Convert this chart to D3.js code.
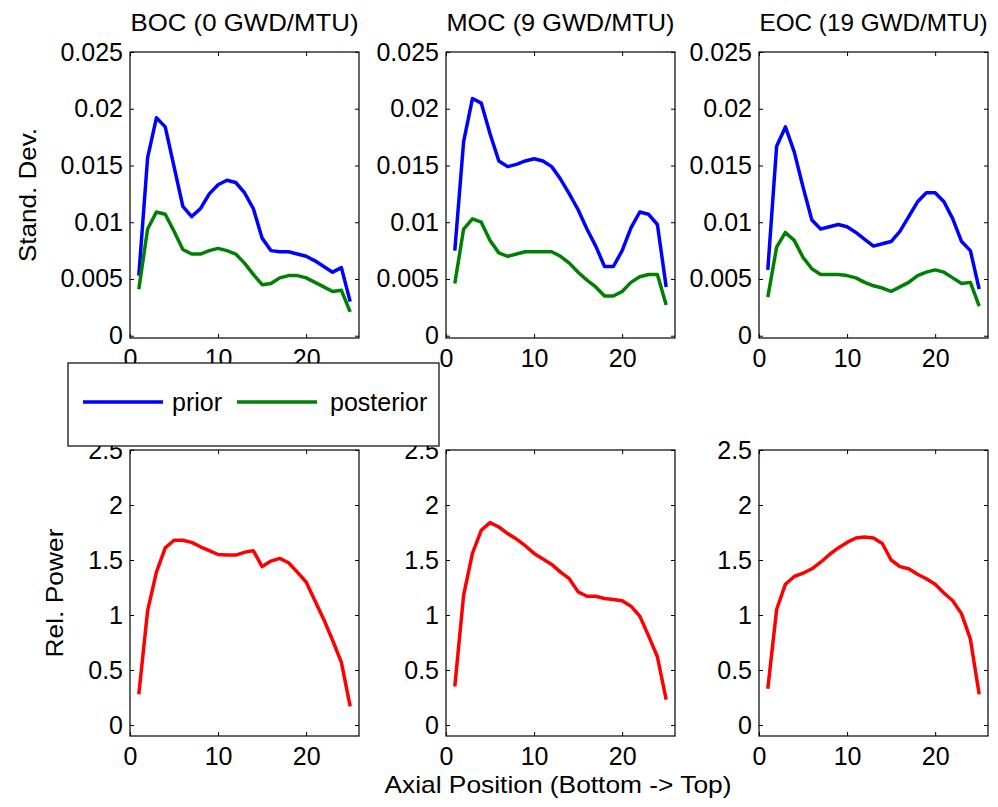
<!DOCTYPE html>
<html lang="en">
<head>
    <meta charset="UTF-8">
    <title>Axial profiles</title>
    <script src="https://d3js.org/d3.v7.min.js"></script>
    <style>
        body { margin: 0; background: #fff; }
        text { font-family: "Liberation Sans", Arial, sans-serif; fill: #000; }
    </style>
</head>
<body>
    <div id="chart"></div>

    <script>
        // axial node positions
        var axial = d3.range(1, 26);

        var titles = ["BOC (0 GWD/MTU)", "MOC (9 GWD/MTU)", "EOC (19 GWD/MTU)"];
        var xTicks = [0, 10, 20];
        var sdTicks = [0, 0.005, 0.01, 0.015, 0.02, 0.025];
        var powTicks = [0, 0.5, 1, 1.5, 2, 2.5];

        // standard deviation, prior
        var priorBOC = [0.0053, 0.0157, 0.0192, 0.0184, 0.0149, 0.0114, 0.0105, 0.0112, 0.0125, 0.0133, 0.0137, 0.0135, 0.0126, 0.0112, 0.0086,
            0.0075, 0.0074, 0.0074, 0.0072, 0.0070, 0.0066, 0.0061, 0.0056, 0.0060, 0.0030];
        var priorMOC = [0.0075, 0.0171, 0.0209, 0.0205, 0.0178, 0.0154, 0.0149, 0.0151, 0.0154, 0.0156, 0.0154, 0.0149, 0.0138, 0.0125, 0.0111,
            0.0094, 0.0079, 0.0061, 0.0061, 0.0075, 0.0095, 0.0109, 0.0107, 0.0098, 0.0043];
        var priorEOC = [0.0058, 0.0167, 0.0184, 0.0162, 0.0131, 0.0102, 0.0094, 0.0096, 0.0098, 0.0096, 0.0091, 0.0085, 0.0079, 0.0081, 0.0083,
            0.0092, 0.0105, 0.0118, 0.0126, 0.0126, 0.0118, 0.0103, 0.0083, 0.0075, 0.0041];

        // standard deviation, posterior
        var postBOC = [0.0041, 0.0094, 0.0109, 0.0107, 0.0092, 0.0076, 0.0072, 0.0072, 0.0075, 0.0077, 0.0075, 0.0072, 0.0064, 0.0054, 0.0045,
            0.0046, 0.0051, 0.0053, 0.0053, 0.0051, 0.0047, 0.0043, 0.0039, 0.0040, 0.0021];
        var postMOC = [0.0046, 0.0094, 0.0103, 0.0100, 0.0084, 0.0073, 0.0070, 0.0072, 0.0074, 0.0074, 0.0074, 0.0074, 0.0070, 0.0064, 0.0056,
            0.0049, 0.0043, 0.0035, 0.0035, 0.0039, 0.0047, 0.0052, 0.0054, 0.0054, 0.0027];
        var postEOC = [0.0034, 0.0078, 0.0091, 0.0084, 0.0069, 0.0059, 0.0054, 0.0054, 0.0054, 0.0053, 0.0051, 0.0047, 0.0044, 0.0042, 0.0039,
            0.0043, 0.0047, 0.0053, 0.0056, 0.0058, 0.0056, 0.0051, 0.0046, 0.0047, 0.0026];

        // relative power
        var powerBOC = [0.28, 1.04, 1.39, 1.61, 1.68, 1.68, 1.66, 1.62, 1.585, 1.55, 1.545, 1.545, 1.57, 1.585, 1.44,
            1.49, 1.515, 1.475, 1.39, 1.30, 1.13, 0.96, 0.77, 0.57, 0.17];
        var powerMOC = [0.35, 1.18, 1.56, 1.77, 1.84, 1.80, 1.74, 1.69, 1.63, 1.56, 1.51, 1.46, 1.39, 1.33, 1.21,
            1.17, 1.17, 1.15, 1.14, 1.13, 1.08, 0.99, 0.81, 0.62, 0.23];
        var powerEOC = [0.33, 1.05, 1.28, 1.35, 1.38, 1.42, 1.48, 1.55, 1.61, 1.66, 1.70, 1.71, 1.70, 1.65, 1.50,
            1.44, 1.42, 1.37, 1.33, 1.28, 1.20, 1.13, 1.01, 0.78, 0.28];

        var priors = [priorBOC, priorMOC, priorEOC];
        var posts = [postBOC, postMOC, postEOC];
        var powers = [powerBOC, powerMOC, powerEOC];

        var width = 998;
        var height = 807;
        var lefts = [130, 446, 759];
        var pw = 229;
        var topRow = [52, 338];
        var botRow = [450, 736];

        const svg = d3.select("#chart").append("svg")
            .attr("width", width)
            .attr("height", height);

        var line = function (x, y) {
            return d3.line()
                .x(function (d, i) { return x(axial[i]); })
                .y(function (d) { return y(d); });
        };

        function drawPanel(left, rows, yDomain, yTicks, series) {
            var x = d3.scaleLinear().domain([0, 26]).range([left, left + pw]);
            var y = d3.scaleLinear().domain(yDomain).range([rows[1], rows[0]]);
            var g = svg.append("g");

            // axes with inward ticks, MATLAB style box
            g.append("g")
                .attr("transform", "translate(0," + rows[1] + ")")
                .call(d3.axisBottom(x).tickValues(xTicks).tickFormat(d3.format("d"))
                    .tickSizeInner(-4).tickSizeOuter(0).tickPadding(11));
            g.append("g")
                .attr("transform", "translate(0," + rows[0] + ")")
                .call(d3.axisTop(x).tickValues(xTicks).tickFormat("")
                    .tickSizeInner(-4).tickSizeOuter(0));
            g.append("g")
                .attr("transform", "translate(" + left + ",0)")
                .call(d3.axisLeft(y).tickValues(yTicks).tickFormat(function (d) { return String(d); })
                    .tickSizeInner(-4).tickSizeOuter(0).tickPadding(7));
            g.append("g")
                .attr("transform", "translate(" + (left + pw) + ",0)")
                .call(d3.axisRight(y).tickValues(yTicks).tickFormat("")
                    .tickSizeInner(-4).tickSizeOuter(0));
            g.selectAll(".domain").remove();
            g.selectAll(".tick line").attr("stroke", "#000");
            g.selectAll(".tick text")
                .style("font-size", "25px")
                .style("font-family", "'Liberation Sans', Arial, sans-serif");

            g.append("rect")
                .attr("x", left)
                .attr("y", rows[0])
                .attr("width", pw)
                .attr("height", rows[1] - rows[0])
                .attr("fill", "none")
                .attr("stroke", "#000")
                .attr("stroke-width", 1.2);

            series.forEach(function (s) {
                g.append("path")
                    .datum(s.values)
                    .attr("fill", "none")
                    .attr("stroke", s.color)
                    .attr("stroke-width", 3.5)
                    .attr("stroke-linejoin", "round")
                    .attr("d", line(x, y));
            });
        }

        for (var k = 0; k < 3; k++) {
            drawPanel(lefts[k], topRow, [-0.0002, 0.025], sdTicks, [
                { values: priors[k], color: "#0000ff" },
                { values: posts[k], color: "#008000" }
            ]);
            drawPanel(lefts[k], botRow, [-0.1, 2.5], powTicks, [
                { values: powers[k], color: "#ff0000" }
            ]);

            svg.append("text")
                .attr("x", lefts[k] + pw / 2)
                .attr("y", 31)
                .attr("text-anchor", "middle")
                .attr("textLength", 228)
                .attr("lengthAdjust", "spacingAndGlyphs")
                .style("font-size", "24px")
                .text(titles[k]);
        }

        // axis labels
        svg.append("text")
            .attr("transform", "translate(27,195) rotate(-90)")
            .attr("text-anchor", "middle")
            .attr("dominant-baseline", "central")
            .attr("textLength", 134)
            .attr("lengthAdjust", "spacingAndGlyphs")
            .style("font-size", "24px")
            .text("Stand. Dev.");

        svg.append("text")
            .attr("transform", "translate(54,593) rotate(-90)")
            .attr("text-anchor", "middle")
            .attr("dominant-baseline", "central")
            .attr("textLength", 129)
            .attr("lengthAdjust", "spacingAndGlyphs")
            .style("font-size", "24px")
            .text("Rel. Power");

        svg.append("text")
            .attr("x", 558)
            .attr("y", 793)
            .attr("text-anchor", "middle")
            .attr("textLength", 347)
            .attr("lengthAdjust", "spacingAndGlyphs")
            .style("font-size", "24px")
            .text("Axial Position (Bottom -> Top)");

        // legend, drawn over the top-row tick labels
        var legend = svg.append("g");
        legend.append("rect")
            .attr("x", 68)
            .attr("y", 363)
            .attr("width", 371)
            .attr("height", 83)
            .attr("fill", "#fff")
            .attr("stroke", "#000")
            .attr("stroke-width", 1.2);
        var legendItems = [
            { label: "prior", color: "#0000ff", x: 83, tx: 172 },
            { label: "posterior", color: "#008000", x: 237, tx: 330 }
        ];
        legendItems.forEach(function (it) {
            legend.append("line")
                .attr("x1", it.x).attr("x2", it.x + 80)
                .attr("y1", 402).attr("y2", 402)
                .attr("stroke", it.color)
                .attr("stroke-width", 3.5);
            legend.append("text")
                .attr("x", it.tx)
                .attr("y", 411)
                .style("font-size", "25px")
                .text(it.label);
        });
    </script>
</body>
</html>
